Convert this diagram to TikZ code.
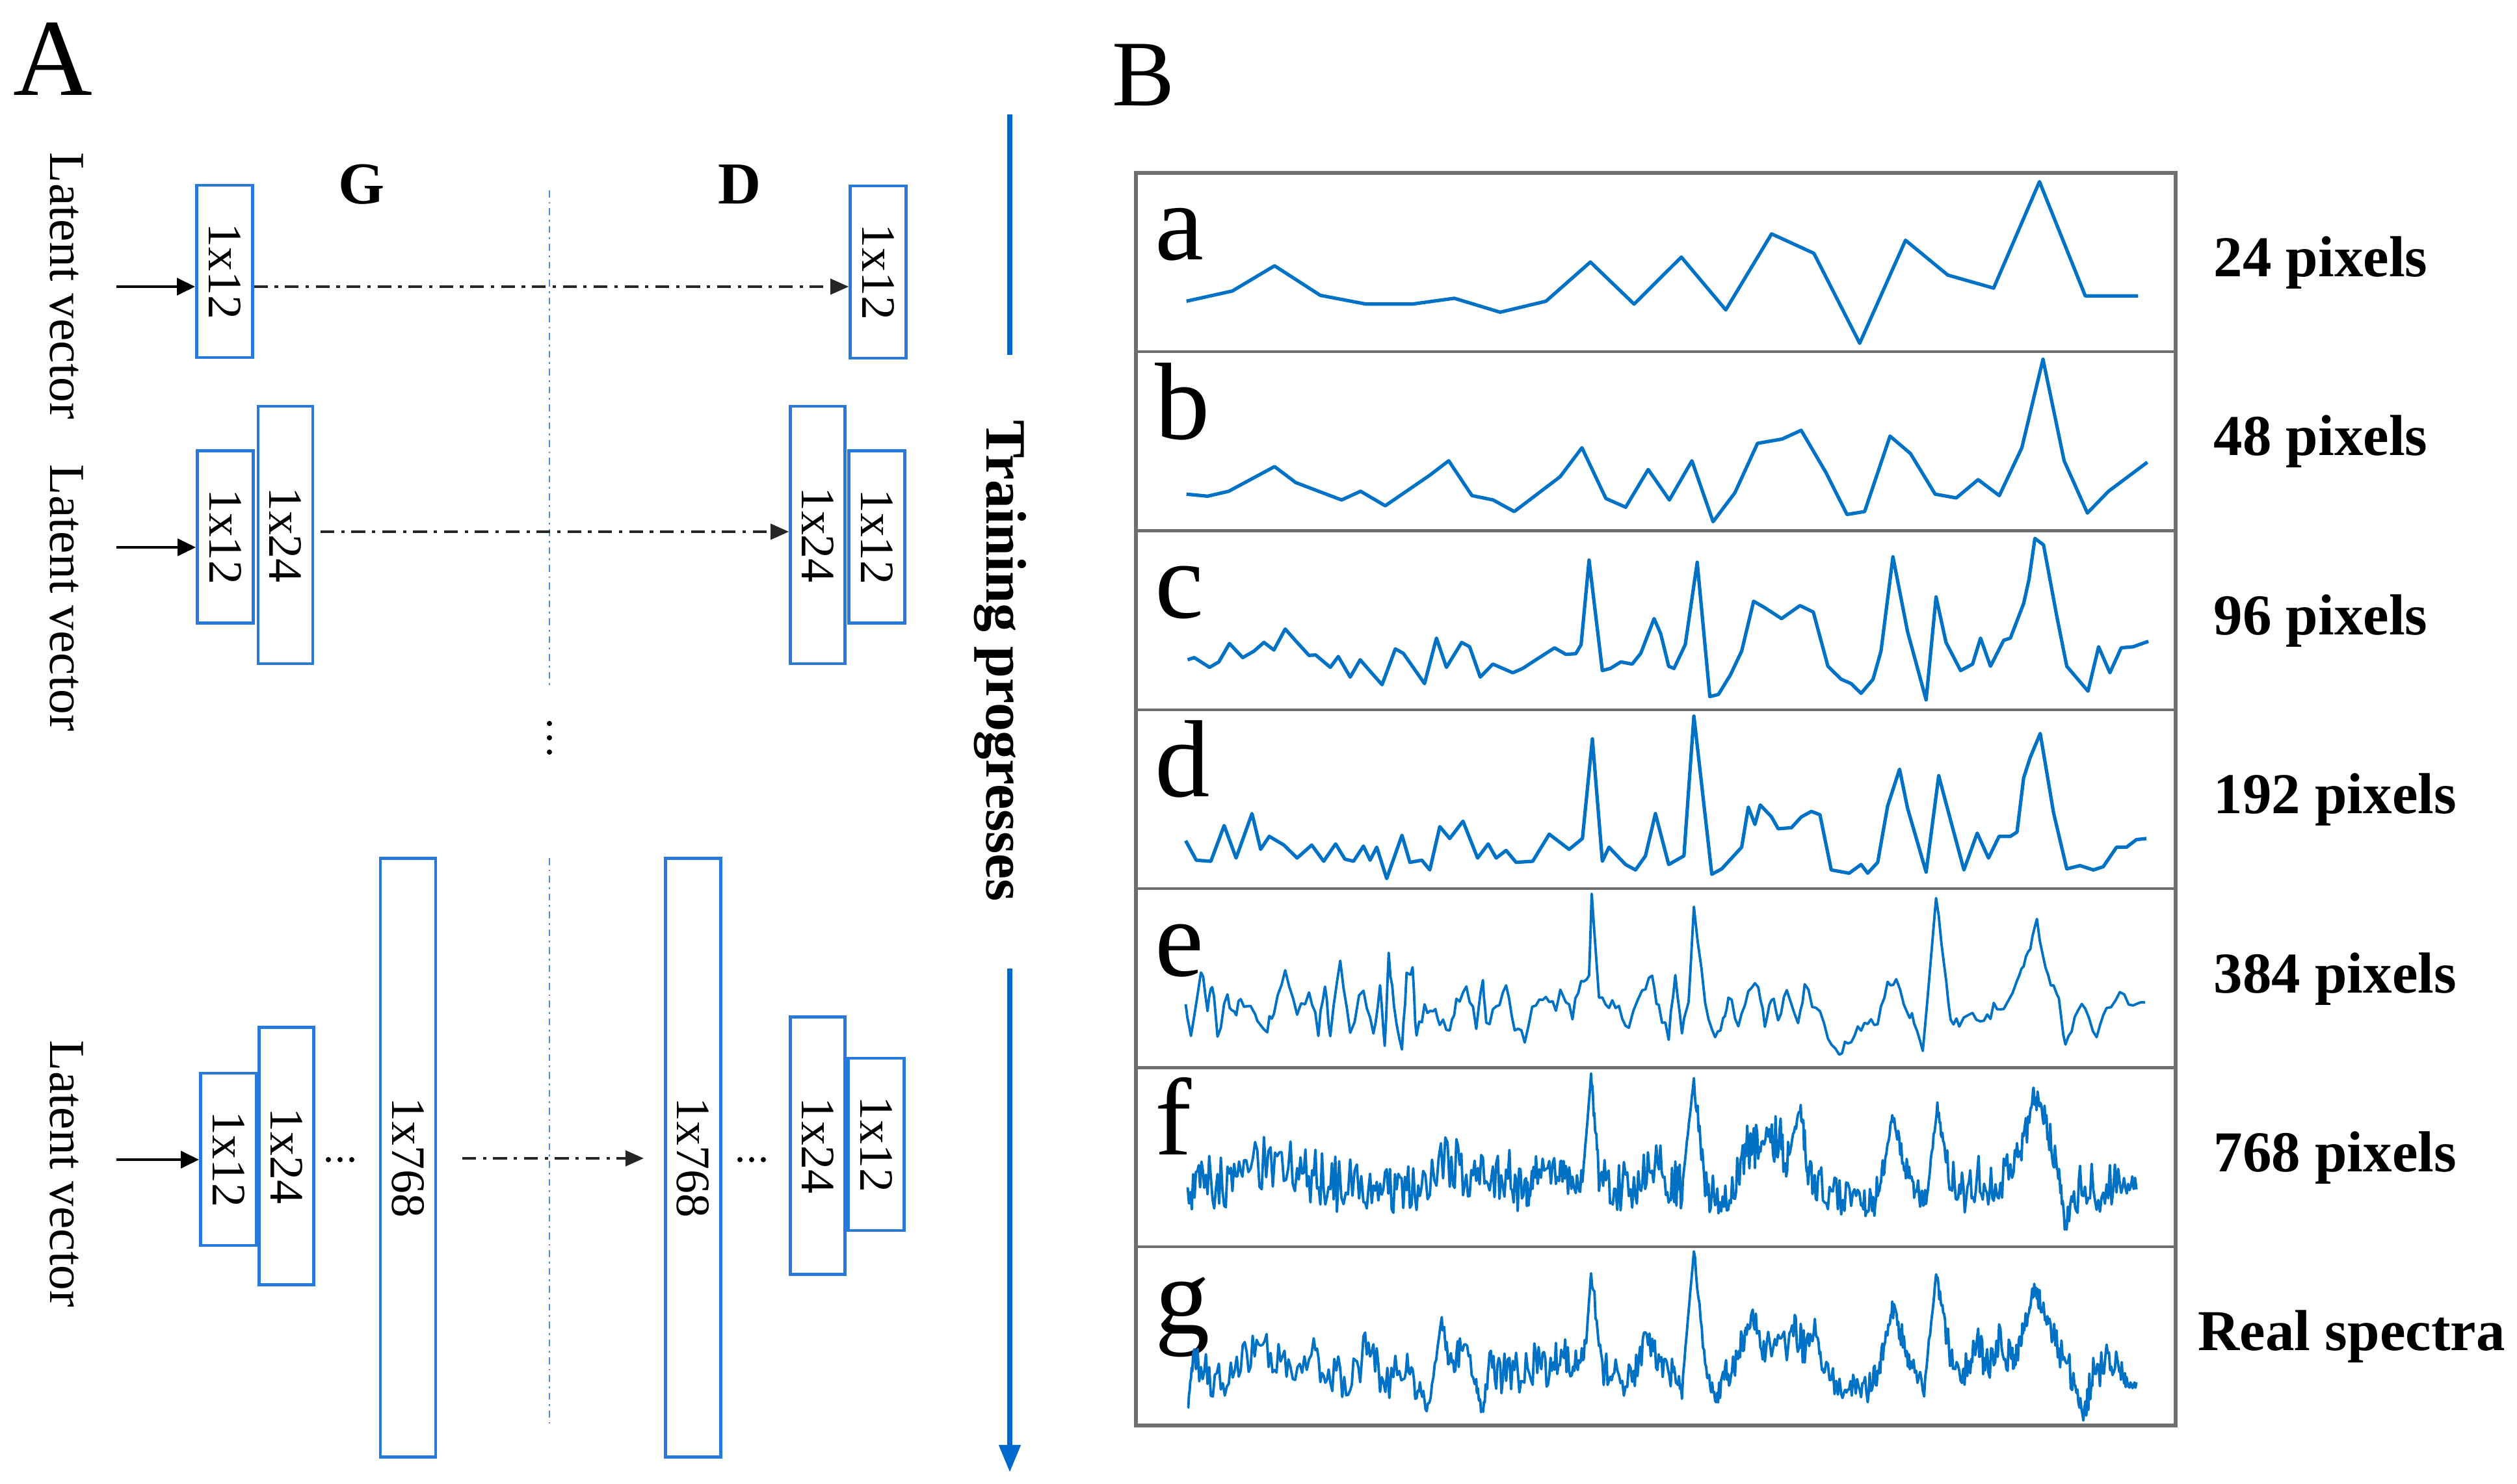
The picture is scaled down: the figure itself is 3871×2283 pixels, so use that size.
\documentclass[tikz,border=0pt]{standalone}
\usepackage{fontspec}
\setmainfont{Liberation Serif}
\usepackage{graphicx}
\usetikzlibrary{arrows.meta}
\definecolor{boxblue}{RGB}{40,122,218}
\definecolor{specblue}{RGB}{0,114,198}
\definecolor{arrowblue}{RGB}{0,105,205}
\definecolor{framegray}{RGB}{110,110,110}
\definecolor{vlineblue}{RGB}{80,140,210}
\newcommand\noisyspec[5]{%
  \draw[specthin] (#2,#3) \foreach \sx/\sy/\sa [remember=\sx as \px (initially #2), remember=\sy as \py (initially #3)] in {#4} {
    \foreach \si in {1,...,#1} { -- ({\px+(\sx-\px)*\si/#1},{\py+(\sy-\py)*\si/#1+#5*\sa*rand}) }
  };
}
\begin{document}
\begin{tikzpicture}[x=0.01cm,y=-0.01cm,
  box/.style={draw=boxblue,line width=1.3pt,inner sep=0pt,font=\fontsize{21}{21}\selectfont},
  smallbox/.style={box,minimum width=0.86cm,minimum height=2.65cm},
  midbox/.style={box,minimum width=0.84cm,minimum height=3.96cm},
  bigbox/.style={box,minimum width=0.85cm,minimum height=9.2cm},
  lat/.style={rotate=-90,inner sep=0pt,font=\fontsize{22}{22}\selectfont},
  latarrow/.style={line width=1.3pt,-{Triangle[length=0.28cm,width=0.26cm]}},
  ddarrow/.style={line width=1pt,black!85,dash pattern=on 6pt off 3pt on 1.5pt off 3pt,-{Triangle[length=0.28cm,width=0.24cm]}},
  gd/.style={font=\bfseries\fontsize{26}{26}\selectfont,inner sep=0pt},
  vdot/.style={vlineblue,line width=0.7pt,dash pattern=on 3pt off 2pt on 0.8pt off 2pt},
  train/.style={rotate=-90,inner sep=0pt,font=\bfseries\fontsize{25}{25}\selectfont},
  tline/.style={arrowblue,line width=2.2pt},
  spec/.style={specblue,line width=1.5pt,line join=round},
  specthin/.style={specblue,line width=1.1pt,line join=round},
  plab/.style={anchor=base west,inner sep=0pt,font=\fontsize{48}{48}\selectfont},
  pixlab/.style={anchor=west,inner sep=0pt,font=\bfseries\fontsize{25.3}{25.3}\selectfont},
  frame/.style={framegray,line width=1.5pt}]
\useasboundingbox (0,0) rectangle (3871,2283);
\pgfmathsetseed{4242}

% ---------------- Panel A ----------------
\node[anchor=base west,inner sep=0pt,font=\fontsize{48}{48}\selectfont] (labA) at (20,147) {A};
\node[gd] (G) at (556,284) {G};
\node[gd] (D) at (1138,284) {D};

% vertical separator
\coordinate (s1) at (845,293);
\coordinate (s2) at (845,1056);
\coordinate (s3) at (845,1320);
\coordinate (s4) at (845,2190);
\draw[vdot] (s1) -- (s2);
\draw[vdot] (s3) -- (s4);
\fill (845,1113) circle (4);
\fill (845,1135) circle (4);
\fill (845,1157) circle (4);

% row 1
\node[smallbox] (g1a) at (345.5,417.5) {\rotatebox{-90}{1x12}};
\node[smallbox] (d1a) at (1350.5,418.5) {\rotatebox{-90}{1x12}};
\node[lat] (lv1) at (102,440) {Latent vector};
\coordinate (l1) at (179,441);
\draw[latarrow] (l1) -- (l1 -| g1a.west);
\draw[ddarrow] (l1 -| g1a.east) -- (l1 -| d1a.west);

% row 2
\node[smallbox] (g2a) at (346.5,826) {\rotatebox{-90}{1x12}};
\node[midbox] (g2b) at (439,823) {\rotatebox{-90}{1x24}};
\node[midbox] (d2b) at (1257.5,823) {\rotatebox{-90}{1x24}};
\node[smallbox] (d2a) at (1348.5,826) {\rotatebox{-90}{1x12}};
\node[lat] (lv2) at (102,920) {Latent vector};
\coordinate (l2) at (179,842);
\coordinate (r2) at (493,818);
\draw[latarrow] (l2) -- (l2 -| g2a.west);
\draw[ddarrow] (r2) -- (r2 -| d2b.west);

% row 3
\node[smallbox] (g3a) at (351.5,1783.5) {\rotatebox{-90}{1x12}};
\node[midbox] (g3b) at (440.5,1778.5) {\rotatebox{-90}{1x24}};
\node[bigbox] (g3c) at (627.5,1781) {\rotatebox{-90}{1x768}};
\node[bigbox] (d3c) at (1066,1781) {\rotatebox{-90}{1x768}};
\node[midbox] (d3b) at (1257.5,1762.5) {\rotatebox{-90}{1x24}};
\node[smallbox] (d3a) at (1347.5,1760.5) {\rotatebox{-90}{1x12}};
\node[lat] (lv3) at (102,1806) {Latent vector};
\coordinate (l3) at (179,1784);
\coordinate (r3s) at (711,1782);
\coordinate (r3e) at (990,1782);
\draw[latarrow] (l3) -- (l3 -| g3a.west);
\draw[ddarrow] (r3s) -- (r3e);
\foreach \dx in {505,523,541} { \fill (\dx,1784) circle (4); }
\foreach \dx in {1138,1156,1174} { \fill (\dx,1784) circle (4); }

% training progresses
\node[train] (tp) at (1538,1017) {Training progresses};
\coordinate (t1) at (1553,176);
\coordinate (t2) at (1553,546);
\coordinate (t3) at (1553,1490);
\coordinate (t4) at (1553,2265);
\draw[tline] (t1) -- (t2);
\draw[tline,-{Triangle[length=0.42cm,width=0.32cm]}] (t3) -- (t4);

% ---------------- Panel B ----------------
\node[anchor=base west,inner sep=0pt,font=\fontsize{41}{41}\selectfont] (labB) at (1710,163) {B};
\draw[frame] (1747,266) rectangle (3346,2193);
\foreach \k in {1,...,6} { \draw[framegray,line width=1.2pt] (1747,{266+275.3*\k}) -- (3346,{266+275.3*\k}); }

\foreach \L [count=\k from 0] in {a,b,c,d,e,f,g} {
  \node[plab] (p\L) at (1776,{266+275.3*\k+134}) {\L};
}

\node[pixlab] (x24) at (3404,404) {24 pixels};
\node[pixlab] (x48) at (3404,679) {48 pixels};
\node[pixlab] (x96) at (3404,955) {96 pixels};
\node[pixlab] (x192) at (3404,1230) {192 pixels};
\node[pixlab] (x384) at (3404,1506) {384 pixels};
\node[pixlab] (x768) at (3404,1781) {768 pixels};
\node[pixlab] (xreal) at (3380,2056) {Real spectra};

% spectra a, b
\begin{scope}[shift={(1700,200)},xscale=1.0842,yscale=0.4464]
\draw[spec] plot coordinates {(115,590) (180,555) (240,468) (305,570) (370,600) (435,600) (495,580) (560,628) (625,590) (688,455) (750,600) (817,438) (880,620) (945,358) (1005,425) (1070,735) (1135,380) (1195,500) (1260,545) (1325,178) (1390,572) (1465,572)};
\draw[spec] plot coordinates {(115,1255) (145,1262) (175,1245) (240,1160) (270,1215) (335,1275) (362,1245) (397,1295) (460,1190) (487,1140) (520,1260) (550,1275) (580,1315) (645,1195) (676,1095) (710,1270) (738,1300) (770,1170) (800,1275) (832,1140) (862,1350) (893,1250) (925,1080) (960,1065) (987,1035) (1022,1180) (1052,1325) (1077,1315) (1113,1055) (1142,1115) (1177,1255) (1207,1268) (1238,1205) (1268,1260) (1300,1095) (1330,790) (1360,1140) (1393,1320) (1423,1245) (1478,1145)};
\end{scope}

% spectrum c
\begin{scope}[shift={(1750,815)},xscale=1.0204,yscale=0.33333]
\draw[spec] plot coordinates {(75,600) (85,590) (108,635) (122,610) (138,525) (158,590) (175,560) (190,520) (205,555) (222,458) (240,520) (258,580) (268,578) (290,635) (302,585) (320,680) (335,600) (352,660) (368,715) (388,550) (400,570) (432,710) (450,500) (465,635) (488,520) (500,540) (516,680) (535,620) (550,640) (565,660) (580,640) (600,600) (628,545) (645,575) (660,572) (668,530) (680,140) (700,650) (712,640) (728,610) (745,620) (758,570) (778,410) (788,480) (800,630) (808,640) (825,530) (843,150) (862,770) (875,760) (893,670) (910,560) (928,330) (945,360) (970,410) (998,350) (1018,380) (1040,630) (1060,690) (1075,710) (1090,755) (1108,690) (1120,560) (1138,125) (1160,470) (1188,785) (1203,310) (1218,520) (1240,650) (1258,620) (1270,500) (1285,630) (1305,510) (1315,500) (1335,340) (1343,230) (1352,40) (1365,70) (1385,400) (1400,630) (1432,745) (1448,540) (1465,660) (1482,545) (1500,540) (1523,515)};
\end{scope}

% spectrum d
\begin{scope}[shift={(1750,1090)},xscale=1.0204,yscale=0.33333]
\draw[spec] plot coordinates {(72,610) (88,700) (110,705) (130,540) (148,690) (172,485) (185,650) (198,590) (220,630) (240,690) (262,630) (280,705) (298,625) (312,695) (325,705) (340,635) (350,700) (360,640) (375,785) (398,585) (410,710) (428,700) (440,745) (455,545) (470,600) (490,520) (512,690) (528,625) (540,690) (555,655) (570,710) (595,705) (620,580) (650,650) (670,600) (685,140) (700,705) (710,640) (735,720) (750,745) (765,680) (780,485) (800,720) (823,680) (838,35) (865,765) (880,740) (895,690) (910,640) (920,455) (930,535) (938,445) (955,500) (965,555) (985,550) (1000,500) (1015,475) (1028,490) (1045,745) (1072,760) (1090,720) (1100,760) (1115,710) (1130,450) (1148,280) (1160,460) (1188,755) (1207,310) (1220,460) (1245,745) (1265,575) (1282,690) (1298,590) (1315,590) (1325,570) (1335,320) (1345,225) (1360,115) (1380,480) (1400,740) (1420,725) (1440,745) (1455,730) (1475,640) (1490,640) (1505,605) (1520,600)};
\end{scope}

% spectrum e
\begin{scope}[shift={(1750,1365)},xscale=1.0204,yscale=0.33333]
\noisyspec{3}{72}{540}{80/690/10, 95/380/15, 105/560/15, 112/440/15, 120/690/15, 135/500/15, 145/600/15, 155/520/15, 170/560/15, 180/610/15, 195/640/15, 205/560/15, 222/370/15, 240/575/15, 258/490/15, 272/660/15, 282/470/15, 290/690/15, 305/320/10, 320/680/15, 340/450/15, 355/700/15, 365/460/15, 372/740/10, 378/320/10, 386/560/15, 398/740/10, 405/420/15, 414/385/10, 420/700/15, 432/550/15, 445/560/15, 455/630/15, 470/650/15, 480/520/15, 495/480/15, 510/630/15, 520/440/15, 525/640/15, 540/560/15, 555/445/15, 568/640/15, 583/700/15, 600/520/15, 615/500/15, 630/540/15, 640/480/15, 655/580/15, 668/440/15, 680/420/10, 684/30/0, 695/520/10, 710/540/15, 725/570/15, 740/650/15, 760/470/15, 775/420/15, 785/560/15, 800/690/15, 810/420/15, 820/650/15, 830/540/10, 838/90/0, 855/530/10, 870/710/15, 882/600/15, 890/500/15, 905/640/15, 920/500/15, 935/450/15, 945/640/15, 955/500/15, 965/590/15, 978/480/15, 995/640/15, 1005/470/15, 1022/550/15, 1040/700/15, 1057/790/10, 1070/700/15, 1085/660/15, 1100/620/15, 1115/620/15, 1130/450/10, 1143/430/10, 1160/590/15, 1170/620/15, 1183/770/10, 1203/50/0, 1215/350/10, 1225/600/15, 1238/620/15, 1258/600/15, 1275/640/15, 1290/550/15, 1305/550/15, 1325/460/15, 1335/340/15, 1345/280/15, 1355/140/5, 1368/380/15, 1380/450/15, 1388/520/15, 1398/740/10, 1412/600/15, 1428/550/15, 1445/690/15, 1460/580/15, 1480/480/15, 1500/530/15, 1518/530/10}{2}
\end{scope}

% spectrum f
\begin{scope}[shift={(1750,1640)},xscale=1.0204,yscale=0.33333]
\noisyspec{12}{75}{560}{100/520/60, 130/540/70, 160/430/70, 200/440/70, 240/460/70, 270/520/70, 300/540/70, 340/540/70, 370/580/60, 400/560/60, 430/560/60, 470/440/70, 500/480/70, 530/520/60, 560/500/60, 585/620/60, 600/470/40, 630/480/40, 650/520/40, 670/540/40, 683/35/5, 695/520/30, 720/560/60, 750/540/60, 775/420/60, 800/540/60, 820/560/60, 838/60/5, 855/560/30, 875/620/50, 900/560/50, 920/360/60, 940/380/60, 963/320/60, 980/420/60, 998/200/10, 1010/480/40, 1030/560/50, 1060/600/50, 1090/600/50, 1110/600/50, 1125/450/30, 1137/230/10, 1155/440/30, 1170/560/40, 1188/640/40, 1205/175/10, 1218/440/20, 1240/600/50, 1265/520/60, 1290/560/60, 1320/460/50, 1340/300/40, 1350/120/20, 1368/250/30, 1385/450/40, 1398/740/30, 1420/560/60, 1450/560/60, 1480/540/50, 1505/520/30}{1.9}
\end{scope}

% spectrum g
\begin{scope}[shift={(1750,1915)},xscale=1.0204,yscale=0.33333]
\noisyspec{10}{75}{750}{85/500/20, 110/600/60, 140/600/60, 170/520/60, 200/500/60, 230/560/60, 265/520/60, 290/580/60, 320/620/60, 345/480/60, 370/640/60, 400/560/60, 420/640/60, 437/780/30, 458/340/10, 470/560/30, 487/460/50, 510/640/50, 518/760/20, 530/560/40, 550/600/60, 575/580/60, 600/540/60, 620/560/60, 640/480/60, 660/560/50, 675/480/30, 683/130/5, 700/580/30, 720/600/50, 745/640/50, 765/440/50, 785/560/50, 805/600/50, 820/660/30, 838/25/5, 855/560/20, 870/710/20, 885/600/40, 900/560/40, 915/420/50, 928/340/30, 945/480/50, 970/500/50, 990/400/50, 1005/480/50, 1022/400/40, 1035/600/40, 1060/640/40, 1080/660/40, 1100/660/40, 1115/600/40, 1125/460/30, 1137/290/20, 1150/420/30, 1165/560/40, 1185/660/30, 1203/140/10, 1215/340/20, 1230/600/40, 1250/560/50, 1265/460/50, 1280/560/50, 1300/420/50, 1318/560/50, 1330/440/40, 1340/340/30, 1350/200/20, 1360/260/30, 1372/340/30, 1390/500/50, 1410/600/50, 1425/770/30, 1440/600/50, 1460/540/50, 1478/560/40, 1490/640/30, 1505/650/10}{1.7}
\end{scope}
\end{tikzpicture}
\end{document}
